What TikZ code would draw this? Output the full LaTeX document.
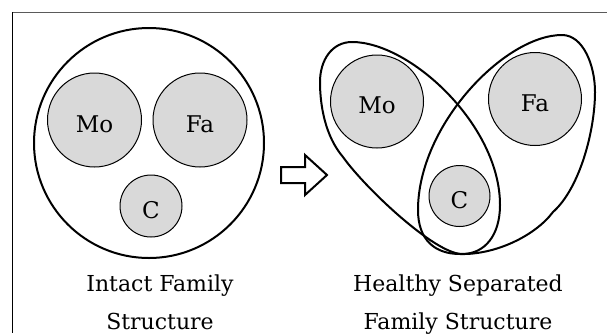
\documentclass[tikz,border=0pt]{standalone}
\usepackage{fontspec}
\setmainfont{DejaVu Serif}
\usepackage{tikz}
\usepackage{xcolor}
\definecolor{memberfill}{RGB}{217,217,217}
\definecolor{framegray}{RGB}{90,90,90}

\begin{document}
\begin{tikzpicture}[x=1pt,y=-1pt,member/.style={circle,draw,line width=1pt,fill=memberfill,inner sep=0pt,text height=25pt,font=\fontsize{23}{26}\selectfont},family/.style={line width=2pt},caption/.style={align=center,anchor=base,font=\fontsize{22}{38}\selectfont}]
            \useasboundingbox (0,0) rectangle (607,333);
            \draw[framegray,line width=1pt] (12,12) -- (607,12);
            \draw[line width=1pt] (12,12) -- (12,333);
            \node[draw,circle,family,minimum size=230] (intact) at (149,143) {};
            \node[member,minimum size=94] (mo) at (94.5,120) {Mo};
            \node[member,minimum size=94] (fa) at (200,120) {Fa};
            \node[member,minimum size=62] (c) at (151,206) {C};
            \draw[line width=2pt,line join=miter] (281,167) -- (305,167) -- (305,155) -- (327,175) -- (305,195) -- (305,183) -- (281,183) -- cycle;
            \draw[family] (320,82) .. controls (320,60) and (332,42) .. (352,42)
                .. controls (410,42) and (500,125) .. (500,205)
                .. controls (500,235) and (485,254) .. (462,254)
                .. controls (435,254) and (365,188) .. (343,157)
                .. controls (325,136) and (320,105) .. cycle;
            \draw[family] (595,92) .. controls (595,65) and (583,35) .. (562,35)
                .. controls (505,35) and (418,125) .. (418,210)
                .. controls (418,240) and (435,254) .. (460,254)
                .. controls (495,255) and (535,236) .. (553,212)
                .. controls (580,188) and (595,130) .. cycle;
            \node[member,minimum size=93] (mo2) at (377,101.5) {Mo};
            \node[member,minimum size=93] (fa2) at (535,99) {Fa};
            \node[member,minimum size=61] (c2) at (459.5,196) {C};
            \node[caption] (intactlabel) at (160,329) {Intact Family\\Structure};
            \node[caption] (separatedlabel) at (458,329) {Healthy Separated\\Family Structure};
        \end{tikzpicture}
\end{document}
